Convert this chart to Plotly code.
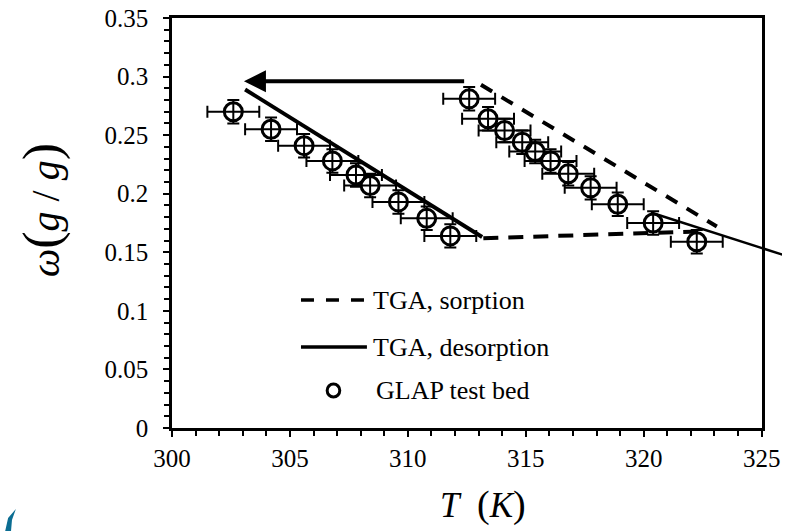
import plotly.graph_objects as go

# ---------------- data ----------------
# GLAP test bed, desorption branch (left cluster)
glap_des_T = [302.6, 304.2, 305.6, 306.8, 307.8, 308.4, 309.6, 310.8, 311.8]
glap_des_w = [0.270, 0.255, 0.241, 0.228, 0.216, 0.207, 0.193, 0.179, 0.164]
# GLAP test bed, sorption branch (right cluster)
glap_sor_T = [312.6, 313.4, 314.1, 314.85, 315.4, 316.05, 316.8, 317.75, 318.9, 320.4, 322.25]
glap_sor_w = [0.281, 0.264, 0.254, 0.244, 0.236, 0.228, 0.217, 0.205, 0.191, 0.175, 0.159]
err_T = 1.1      # K
err_w = 0.01     # g/g

# TGA curves
tga_sorp_T = [313.1, 323.1]
tga_sorp_w = [0.293, 0.172]
tga_link_T = [313.2, 322.6]
tga_link_w = [0.162, 0.168]
tga_des_T = [303.1, 313.15]
tga_des_w = [0.289, 0.163]
tga_des2_T = [320.3, 326.5]
tga_des2_w = [0.184, 0.144]

# arrow (cycle direction)
arrow_T = [312.45, 303.05]
arrow_w = [0.296, 0.296]

x_ticks = [300, 305, 310, 315, 320, 325]
x_tick_labels = ["300", "305", "310", "315", "320", "325"]
y_ticks = [0, 0.05, 0.1, 0.15, 0.2, 0.25, 0.3, 0.35]
y_tick_labels = ["0", "0.05", "0.1", "0.15", "0.2", "0.25", "0.3", "0.35"]

legend_labels = ["TGA, sorption", "TGA, desorption", "GLAP test bed"]

# ---------------- layout geometry ----------------
W, H = 801, 531
ML, MR, MT, MB = 172, 0, 18, 103
plot_right_px = 780
d1 = (plot_right_px - ML) / (W - ML - MR)
x_range = [300, 325]
x2_range = [300, 300 + (x_range[1] - x_range[0]) / d1]

FONT = "Liberation Serif"


def px(x, y):
    return (x - ML) / (W - ML - MR), (H - MB - y) / (H - MB - MT)


fig = go.Figure()

err_style = dict(thickness=2, color="black", width=6)
marker_style = dict(symbol="circle-open", size=18, color="black", line=dict(width=3, color="black"))

for T, w in [(glap_des_T, glap_des_w), (glap_sor_T, glap_sor_w)]:
    fig.add_trace(go.Scatter(
        x=T, y=w, mode="markers", name=legend_labels[2], showlegend=False,
        marker=marker_style,
        error_x=dict(type="constant", value=err_T, **err_style),
        error_y=dict(type="constant", value=err_w, **err_style),
        cliponaxis=False,
    ))

fig.add_trace(go.Scatter(x=tga_sorp_T, y=tga_sorp_w, mode="lines", name=legend_labels[0],
                         showlegend=False, line=dict(color="black", width=4, dash="13px,11px")))
fig.add_trace(go.Scatter(x=tga_link_T, y=tga_link_w, mode="lines", name=legend_labels[0],
                         showlegend=False, line=dict(color="black", width=4, dash="15px,10px")))
fig.add_trace(go.Scatter(x=tga_des_T, y=tga_des_w, mode="lines", name=legend_labels[1],
                         showlegend=False, line=dict(color="black", width=4)))
# desorption line continuing beyond the right frame: drawn on a wider hidden axis pair
fig.add_trace(go.Scatter(x=tga_des2_T, y=tga_des2_w, mode="lines", name=legend_labels[1],
                         showlegend=False, line=dict(color="black", width=2.5),
                         xaxis="x2", yaxis="y2"))

tickfont = dict(family=FONT, size=25, color="black")
axis_common = dict(
    showline=True, linewidth=2.5, linecolor="black", mirror=True,
    ticks="outside", ticklen=6, tickwidth=2, tickcolor="black",
    showgrid=False, zeroline=False,
)

fig.update_layout(
    width=W, height=H,
    margin=dict(l=ML, r=MR, t=MT, b=MB),
    font=dict(family=FONT, size=25, color="black"),
    paper_bgcolor="white", plot_bgcolor="rgba(0,0,0,0)",
    showlegend=False,
    xaxis=dict(domain=[0, d1], range=x_range, tickmode="array", tickvals=x_ticks, ticktext=x_tick_labels,
               tickfont=tickfont,
               minor=dict(dtick=1, ticks="outside", ticklen=5, tickwidth=2, tickcolor="black"),
               **axis_common),
    yaxis=dict(domain=[0, 1], range=[0, 0.35], tickmode="array", tickvals=y_ticks, ticktext=y_tick_labels,
               tickfont=tickfont, ticklabelstandoff=10,
               minor=dict(dtick=0.01, ticks="outside", ticklen=5, tickwidth=2, tickcolor="black"),
               **axis_common),
    xaxis2=dict(domain=[0, 1], range=x2_range, visible=False, anchor="y2"),
    yaxis2=dict(domain=[0, 1], range=[0, 0.35], visible=False, anchor="x2"),
)

annotations = []
# arrow
annotations.append(dict(x=arrow_T[1], y=arrow_w[1], ax=arrow_T[0], ay=arrow_w[0],
                        xref="x", yref="y", axref="x", ayref="y", text="",
                        showarrow=True, arrowhead=2, arrowsize=1.1, arrowwidth=4, arrowcolor="black"))
# axis titles
xt, yt = px(38, 210)
annotations.append(dict(x=xt, y=yt, xref="paper", yref="paper", showarrow=False,
                        textangle=-90, xanchor="center", yanchor="middle",
                        text="<i>ω</i><span style='font-size:52px'>(</span><i>g</i> / <i>g</i><span style='font-size:52px'>)</span>",
                        font=dict(family=FONT, size=40, color="black")))
xt, yt = px(493, 504)
annotations.append(dict(x=xt, y=yt, xref="paper", yref="paper", showarrow=False,
                        xanchor="center", yanchor="middle",
                        text="<i>T</i>  <span style='font-size:38px'>(</span><i>K</i><span style='font-size:38px'>)</span>",
                        font=dict(family=FONT, size=35, color="black")))
# legend text
for (lx, ly), lab in zip([(377, 300), (377, 347), (380, 390)], legend_labels):
    xt, yt = px(lx, ly)
    annotations.append(dict(x=xt, y=yt, xref="paper", yref="paper", showarrow=False,
                            xanchor="left", yanchor="middle", text=lab,
                            font=dict(family=FONT, size=26, color="black")))
fig.update_layout(annotations=annotations)

shapes = []
x0, y0 = px(305, 300); x1, _ = px(373, 300)
shapes.append(dict(type="line", xref="paper", yref="paper", x0=x0, x1=x1, y0=y0, y1=y0,
                   line=dict(color="black", width=3.5, dash="13px,12px")))
x0, y0 = px(305, 347); x1, _ = px(373, 347)
shapes.append(dict(type="line", xref="paper", yref="paper", x0=x0, x1=x1, y0=y0, y1=y0,
                   line=dict(color="black", width=3.5)))
cx0, cy0 = px(332, 384); cx1, cy1 = px(345, 397)
shapes.append(dict(type="circle", xref="paper", yref="paper", x0=cx0, x1=cx1, y0=cy1, y1=cy0,
                   line=dict(color="black", width=3)))
# small teal logo fragment in the bottom-left corner
pts = [(11, 509), (3, 518), (0, 531), (6, 531), (7, 520)]
ppts = [px(a, b) for a, b in pts]
path = "M " + " L ".join(f"{a},{b}" for a, b in ppts) + " Z"
shapes.append(dict(type="path", xref="paper", yref="paper", path=path,
                   fillcolor="#0b6d92", line=dict(width=0)))
fig.update_layout(shapes=shapes)

fig.write_html("out.html")
